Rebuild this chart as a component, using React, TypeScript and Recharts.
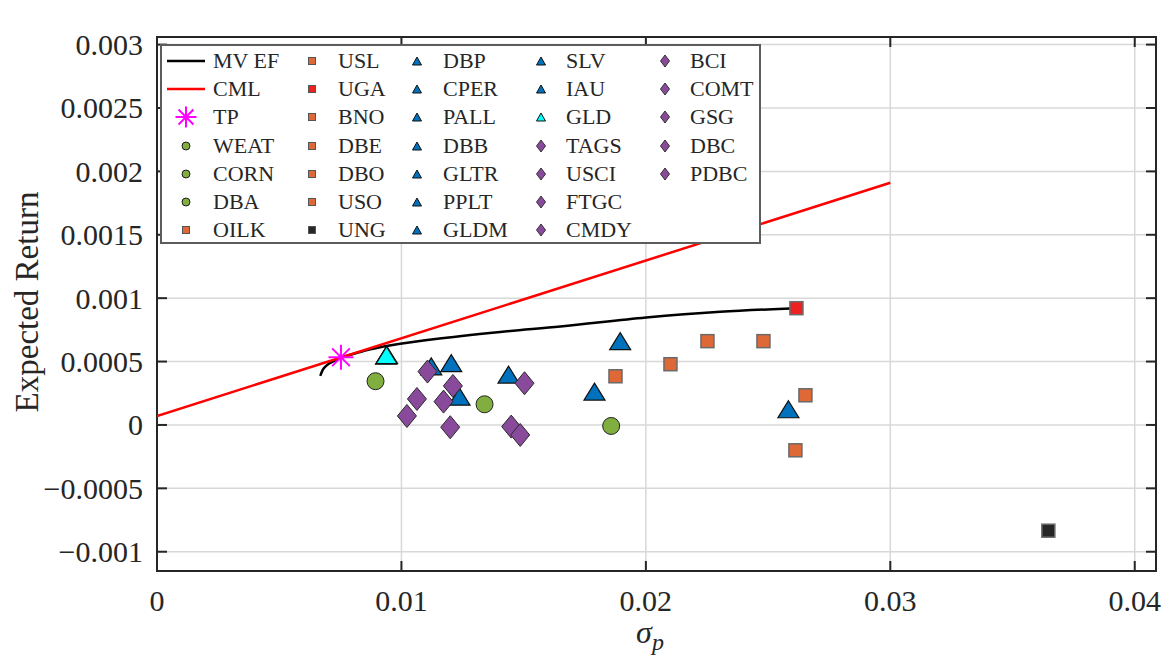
import React from "react";
import { ScatterChart, Scatter, XAxis, YAxis, CartesianGrid, ReferenceArea } from "recharts";

// efficient frontier
const frontierSigma = [0.00668, 0.00678, 0.00697, 0.00721, 0.00753, 0.00832, 0.00927, 0.01131, 0.01404, 0.0165, 0.02001, 0.02304, 0.02616];
const frontierReturn = [0.000387, 0.000434, 0.000474, 0.000501, 0.000529, 0.000576, 0.000618, 0.000676, 0.000734, 0.000776, 0.000847, 0.000892, 0.000921];

// capital market line
const cmlSigma = [0, 0.03];
const cmlReturn = [0.000071, 0.00191];

// tangency portfolio
const tpSigma = [0.007526];
const tpReturn = [0.000534];

const agriNames = ["WEAT", "CORN", "DBA"];
const agriSigma = [0.01858, 0.0134, 0.00894];
const agriReturn = [-0.000008, 0.000163, 0.000345];

const energyNames = ["OILK", "USL", "UGA", "BNO", "DBE", "DBO", "USO", "UNG"];
const energySigma = [0.018757, 0.021006, 0.02616, 0.022519, 0.02481, 0.026528, 0.026118, 0.036466];
const energyReturn = [0.000384, 0.000479, 0.000921, 0.000661, 0.000661, 0.000234, -0.0002, -0.000834];

const metalNames = ["DBP", "CPER", "PALL", "DBB", "GLTR", "PPLT", "GLDM", "SLV", "IAU", "GLD"];
const metalSigma = [0.012037, 0.017898, 0.018949, 0.01438, 0.011219, 0.012376, 0.00937, 0.025832, 0.00941, 0.009391];
const metalReturn = [0.000488, 0.000263, 0.000661, 0.000397, 0.000462, 0.000223, 0.000547, 0.000124, 0.000552, 0.00055];

const broadNames = ["TAGS", "USCI", "FTGC", "CMDY", "BCI", "COMT", "GSG", "DBC", "PDBC"];
const broadSigma = [0.011067, 0.010634, 0.010225, 0.011722, 0.012106, 0.011996, 0.014491, 0.014859, 0.015035];
const broadReturn = [0.000421, 0.000205, 0.000071, 0.000184, 0.000308, -0.000018, -0.000013, -0.000079, 0.000329];

const xTicks = [0, 0.01, 0.02, 0.03, 0.04];
const yTicks = [-0.001, -0.0005, 0, 0.0005, 0.001, 0.0015, 0.002, 0.0025, 0.003];
const X_MAX = 0.04087;
const Y_MIN = -0.001152;
const Y_MAX = 0.00306;

const W = 1171;
const H = 671;
const PLOT_LEFT = 157;
const PLOT_RIGHT = 1156;
const PLOT_TOP = 37;
const FONT = "'Liberation Serif', 'Times New Roman', serif";
const INK = "#262626";

const GREEN = "#80af3f";
const ORANGE = "#df6936";
const RED = "#ef2020";
const DARK = "#262626";
const BLUE = "#0072bd";
const CYAN = "#00ffff";
const PURPLE = "#8a4a9c";
const MAGENTA = "#ff00ff";

const accent: Record<string, string> = { UGA: RED, UNG: DARK, GLD: CYAN };

const zip = (names: string[] | null, xs: number[], ys: number[]) =>
  xs.map((x, i) => ({ name: names ? names[i] : "", x, y: ys[i] }));

const fmt = (v: number) => String(v).replace("-", "\u2212");

const XTick = (props: any) => {
  const { x, y, payload } = props;
  return (
    <g>
      <line x1={x} x2={x} y1={y} y2={y - 10} stroke={INK} strokeWidth={2} />
      <line x1={x} x2={x} y1={PLOT_TOP} y2={PLOT_TOP + 10} stroke={INK} strokeWidth={2} />
      <text x={x} y={y + 29} textAnchor="middle" dominantBaseline="central" fontFamily={FONT} fontSize={30} fill={INK}>
        {fmt(payload.value)}
      </text>
    </g>
  );
};

const YTick = (props: any) => {
  const { x, y, payload } = props;
  return (
    <g>
      <line x1={x} x2={x + 10} y1={y} y2={y} stroke={INK} strokeWidth={2} />
      <line x1={PLOT_RIGHT} x2={PLOT_RIGHT - 10} y1={y} y2={y} stroke={INK} strokeWidth={2} />
      <text x={x - 14} y={y} textAnchor="end" dominantBaseline="central" fontFamily={FONT} fontSize={30} fill={INK}>
        {fmt(payload.value)}
      </text>
    </g>
  );
};

const noDot = () => <g />;

const circleShape = (p: any) => (
  <circle cx={p.cx} cy={p.cy} r={8.5} fill={GREEN} stroke="#222" strokeWidth={1} />
);

const squareShape = (p: any) => {
  const fill = accent[p.payload?.name] || ORANGE;
  return <rect x={p.cx - 6.5} y={p.cy - 6.5} width={13} height={13} fill={fill} stroke="#6a6a6a" strokeWidth={1.5} />;
};

const triPath = (cx: number, cy: number, w: number, h: number) =>
  `M${cx},${cy - h / 2}L${cx + w / 2},${cy + h / 2}L${cx - w / 2},${cy + h / 2}Z`;

const triangleShape = (p: any) => {
  const fill = accent[p.payload?.name] || BLUE;
  return <path d={triPath(p.cx, p.cy, 21, 17)} fill={fill} stroke="#111" strokeWidth={1.2} />;
};

const diaPath = (cx: number, cy: number, w: number, h: number) =>
  `M${cx},${cy - h / 2}L${cx + w / 2},${cy}L${cx},${cy + h / 2}L${cx - w / 2},${cy}Z`;

const diamondShape = (p: any) => (
  <path d={diaPath(p.cx, p.cy, 19, 23)} fill={PURPLE} stroke="#2a2a2a" strokeWidth={1} />
);

const starPath = (cx: number, cy: number, r: number) => {
  const d = r * Math.SQRT1_2;
  return `M${cx - r},${cy}L${cx + r},${cy}M${cx},${cy - r}L${cx},${cy + r}M${cx - d},${cy - d}L${cx + d},${cy + d}M${cx - d},${cy + d}L${cx + d},${cy - d}`;
};

const starShape = (p: any) => <path d={starPath(p.cx, p.cy, 12.5)} stroke={MAGENTA} strokeWidth={2} fill="none" />;

const YLabel = () => (
  <text x={38} y={302} transform="rotate(-90 38 302)" textAnchor="middle" fontFamily={FONT} fontSize={33} fill={INK}>
    Expected Return
  </text>
);

const XLabel = () => (
  <text x={650} y={643} textAnchor="middle" fontFamily={FONT} fill={INK}>
    <tspan fontStyle="italic" fontSize={32}>σ</tspan>
    <tspan fontStyle="italic" fontSize={24} dy={7}>p</tspan>
  </text>
);

type Kind = "line" | "star" | "circle" | "square" | "triangle" | "diamond";
const legendItems: { name: string; kind: Kind; color: string }[] = [
  { name: "MV EF", kind: "line", color: "#000" },
  { name: "CML", kind: "line", color: "#ff0000" },
  { name: "TP", kind: "star", color: MAGENTA },
  ...agriNames.map((n) => ({ name: n, kind: "circle" as Kind, color: GREEN })),
  ...energyNames.map((n) => ({ name: n, kind: "square" as Kind, color: accent[n] || ORANGE })),
  ...metalNames.map((n) => ({ name: n, kind: "triangle" as Kind, color: accent[n] || BLUE })),
  ...broadNames.map((n) => ({ name: n, kind: "diamond" as Kind, color: PURPLE })),
];

const LegendMark = ({ kind, color }: { kind: Kind; color: string }) => {
  const c = 20;
  let el: React.ReactNode = null;
  if (kind === "line") el = <line x1={1} x2={39} y1={c} y2={c} stroke={color} strokeWidth={2.5} />;
  if (kind === "star") el = <path d={starPath(20, c, 10.5)} stroke={color} strokeWidth={2} fill="none" />;
  if (kind === "circle") el = <circle cx={20} cy={c} r={4} fill={color} stroke="#222" strokeWidth={1} />;
  if (kind === "square") el = <rect x={16.5} y={c - 3.5} width={7} height={7} fill={color} stroke="#555" strokeWidth={1} />;
  if (kind === "triangle") el = <path d={triPath(20, c, 9, 8)} fill={color} stroke="#111" strokeWidth={1} />;
  if (kind === "diamond") el = <path d={diaPath(20, c, 9, 12)} fill={color} stroke="#333" strokeWidth={1} />;
  return (
    <svg width={40} height={40} style={{ position: "absolute", left: -20, top: -20, overflow: "visible" }}>
      {el}
    </svg>
  );
};

const colMark = [24, 150, 255, 379, 503];
const colText = [51, 176, 281, 404, 528];

const LegendBox = () => (
  <div
    style={{
      position: "absolute",
      left: 160,
      top: 44,
      width: 597,
      height: 196,
      border: "2px solid #5c5c5c",
      background: "#fff",
      fontFamily: FONT,
      fontSize: 22,
      color: INK,
    }}
  >
    {legendItems.map((it, i) => {
      const col = Math.floor(i / 7);
      const row = i % 7;
      const cy = 15 + row * 28.2;
      return (
        <React.Fragment key={it.name}>
          <div style={{ position: "absolute", left: colMark[col], top: cy }}>
            <LegendMark kind={it.kind} color={it.color} />
          </div>
          <div style={{ position: "absolute", left: colText[col], top: cy - 13, lineHeight: "26px", whiteSpace: "nowrap" }}>
            {it.name}
          </div>
        </React.Fragment>
      );
    })}
  </div>
);

export default function App() {
  return (
    <div style={{ position: "absolute", left: 0, top: 0, width: W, height: H, background: "#fff" }}>
      <ScatterChart width={W} height={H} margin={{ top: PLOT_TOP, right: W - PLOT_RIGHT, bottom: 0, left: 0 }}>
        <CartesianGrid stroke="#d8d8d8" strokeWidth={1.5} verticalValues={xTicks} horizontalValues={yTicks} />
        <XAxis
          type="number"
          dataKey="x"
          domain={[0, X_MAX]}
          ticks={xTicks}
          allowDataOverflow
          height={100}
          tickSize={0}
          tickMargin={0}
          axisLine={false}
          tick={XTick}
          label={XLabel}
        />
        <YAxis
          type="number"
          dataKey="y"
          domain={[Y_MIN, Y_MAX]}
          ticks={yTicks}
          allowDataOverflow
          width={PLOT_LEFT}
          tickSize={0}
          tickMargin={0}
          axisLine={false}
          tick={YTick}
          label={YLabel}
        />
        <ReferenceArea x1={0} x2={X_MAX} y1={Y_MIN} y2={Y_MAX} fill="none" fillOpacity={0} stroke={INK} strokeWidth={2} ifOverflow="visible" />
        <Scatter
          name="MV EF"
          data={zip(null, frontierSigma, frontierReturn)}
          shape={noDot}
          line={{ stroke: "#000", strokeWidth: 2.5 }}
          lineType="joint"
          lineJointType="monotoneX"
          isAnimationActive={false}
        />
        <Scatter
          name="CML"
          data={zip(null, cmlSigma, cmlReturn)}
          shape={noDot}
          line={{ stroke: "#ff0000", strokeWidth: 2.5 }}
          lineType="joint"
          isAnimationActive={false}
        />
        <Scatter name="TP" data={zip(["TP"], tpSigma, tpReturn)} shape={starShape} isAnimationActive={false} />
        <Scatter name="agri" data={zip(agriNames, agriSigma, agriReturn)} shape={circleShape} isAnimationActive={false} />
        <Scatter name="energy" data={zip(energyNames, energySigma, energyReturn)} shape={squareShape} isAnimationActive={false} />
        <Scatter name="metals" data={zip(metalNames, metalSigma, metalReturn)} shape={triangleShape} isAnimationActive={false} />
        <Scatter name="broad" data={zip(broadNames, broadSigma, broadReturn)} shape={diamondShape} isAnimationActive={false} />
      </ScatterChart>
      <LegendBox />
    </div>
  );
}
